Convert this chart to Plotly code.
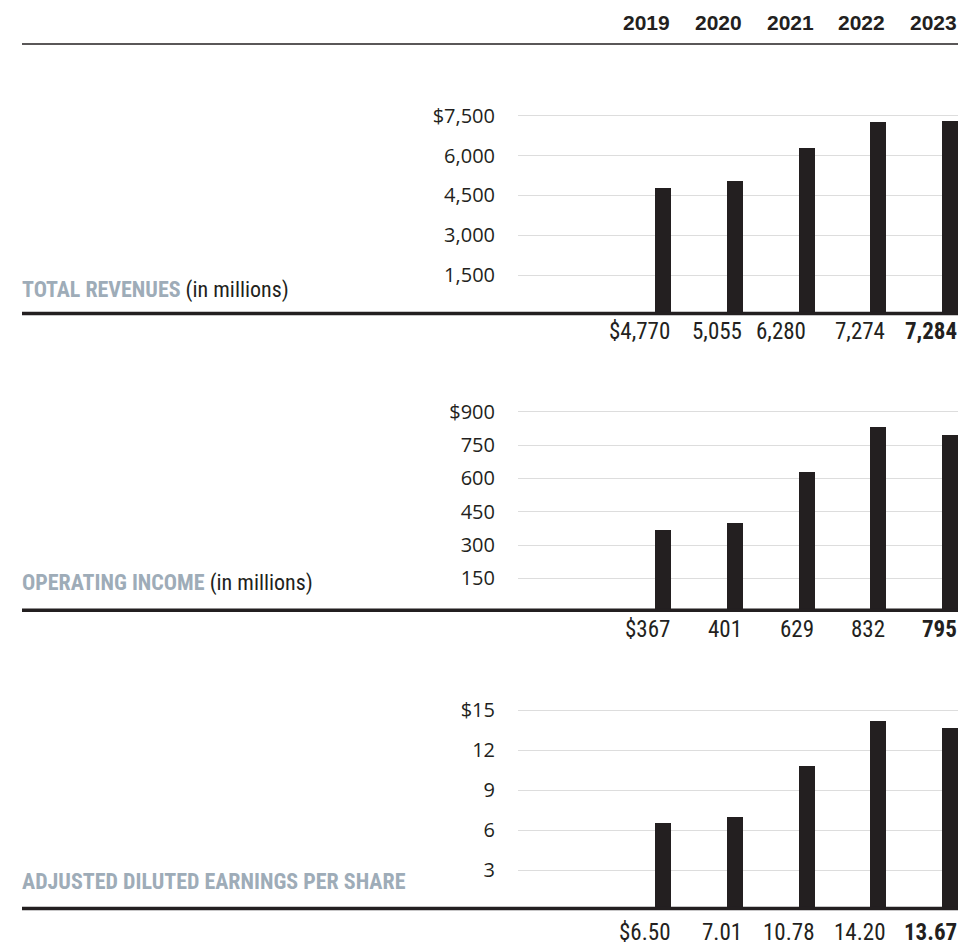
import plotly.graph_objects as go

W, H = 963, 951

years = [2019, 2020, 2021, 2022, 2023]
revenues = [4770, 5055, 6280, 7274, 7284]
operating_income = [367, 401, 629, 832, 795]
eps = [6.50, 7.01, 10.78, 14.20, 13.67]

rev_ticks = [1500, 3000, 4500, 6000, 7500]
oi_ticks = [150, 300, 450, 600, 750, 900]
eps_ticks = [3, 6, 9, 12, 15]

titles = [("TOTAL REVENUES", " (in millions)"),
          ("OPERATING INCOME", " (in millions)"),
          ("ADJUSTED DILUTED EARNINGS PER SHARE", "")]

DARK = "#231f20"
GRAY_TITLE = "#9eacb8"
GRID = "#dddddd"
TICK_FONT = "Open Sans, Liberation Sans, sans-serif"
HEAD_FONT = "Liberation Sans, Arial, sans-serif"
COND_FONT = "Roboto Condensed, DejaVu Sans Condensed, sans-serif"


def py(px):
    return 1 - px / H


def pxx(px):
    return px / W


# bar geometry (pixels)
bar_c0, bar_step, bar_w = 663, 71.75, 16
dom_left, dom_right = 518, 958
x_range = [years[0] + (dom_left - bar_c0) / bar_step,
           years[0] + (dom_right - bar_c0) / bar_step]
half = (bar_w / bar_step) / 2

# panels: (values, ticks, zero_px, top_tick_px, domain_top_px, value fmt, label px, title px, label shifts)
panels = [
    (revenues, rev_ticks, 315.0, 115.7, 100, lambda v: f"{v:,}", 331, 290, [1, 1, -7, 1, 1]),
    (operating_income, oi_ticks, 611.7, 411.7, 398, lambda v: f"{v:,}", 629, 583, [1, 1, 1, 1, 1]),
    (eps, eps_ticks, 910.0, 710.0, 697, lambda v: f"{v:.2f}", 932, 881, [1, 1, 1, 1, 1]),
]

fig = go.Figure()
annotations = []
shapes = []

for i, (vals, ticks, zero_px, top_px, dtop_px, fmt, lab_px, tit_px, shifts) in enumerate(panels):
    n = i + 1
    xa = "x" if n == 1 else f"x{n}"
    ya = "y" if n == 1 else f"y{n}"
    ymax = ticks[-1] * (zero_px - dtop_px) / (zero_px - top_px)
    fig.add_trace(go.Bar(x=years, y=vals, xaxis=xa, yaxis=ya,
                         width=bar_w / bar_step, marker=dict(color=DARK, line=dict(width=0)),
                         hoverinfo="skip", showlegend=False))
    ttext = [("$" if j == len(ticks) - 1 else "") + f"{t:,}" for j, t in enumerate(ticks)]
    fig.update_layout(**{
        ("xaxis" if n == 1 else f"xaxis{n}"): dict(
            domain=[pxx(dom_left), pxx(dom_right)], range=x_range,
            showgrid=False, showticklabels=False, zeroline=False,
            anchor=ya, fixedrange=True),
        ("yaxis" if n == 1 else f"yaxis{n}"): dict(
            domain=[py(zero_px), py(dtop_px)], range=[0, ymax],
            tickvals=ticks, ticktext=ttext, showgrid=True, gridcolor=GRID, gridwidth=1.2,
            zeroline=False, ticks="", ticklabelstandoff=22,
            tickfont=dict(family=TICK_FONT, size=20, color=DARK),
            anchor=xa, fixedrange=True),
    })
    # baseline
    shapes.append(dict(type="line", xref="paper", yref="paper",
                       x0=pxx(22), x1=pxx(958), y0=py(zero_px - 1.5), y1=py(zero_px - 1.5),
                       line=dict(color=DARK, width=3.5), layer="above"))
    # value labels
    for j, (yr, v) in enumerate(zip(years, vals)):
        txt = ("$" if j == 0 else "") + fmt(v)
        last = j == len(vals) - 1
        if last:
            txt = f"<b>{txt}</b>"
        annotations.append(dict(x=yr + half, xref=xa, y=py(lab_px), yref="paper",
                                text=txt, showarrow=False, xanchor="right", yanchor="middle",
                                xshift=shifts[j],
                                font=dict(family=COND_FONT, size=23, color=DARK)))
    # panel title
    t_bold, t_reg = titles[i]
    annotations.append(dict(x=pxx(20), y=py(tit_px), xref="paper", yref="paper",
                            text=f"<b><span style='color:{GRAY_TITLE}'>{t_bold}</span></b>{t_reg}",
                            showarrow=False, xanchor="left", yanchor="middle",
                            font=dict(family=COND_FONT, size=22, color=DARK)))

# year header
for yr in years:
    annotations.append(dict(x=yr + half, xref="x", y=py(23), yref="paper",
                            text=f"<b>{yr}</b>", showarrow=False, xanchor="right", yanchor="middle",
                            xshift=1,
                            font=dict(family=HEAD_FONT, size=21, color=DARK)))
shapes.append(dict(type="line", xref="paper", yref="paper",
                   x0=pxx(22), x1=pxx(958), y0=py(44), y1=py(44),
                   line=dict(color=DARK, width=1.5)))

fig.update_layout(width=W, height=H, margin=dict(l=0, r=0, t=0, b=0),
                  paper_bgcolor="white", plot_bgcolor="white",
                  annotations=annotations, shapes=shapes, bargap=0)

fig.write_html("out.html", config={"displayModeBar": False},
               post_script="document.body.style.margin='0';")
